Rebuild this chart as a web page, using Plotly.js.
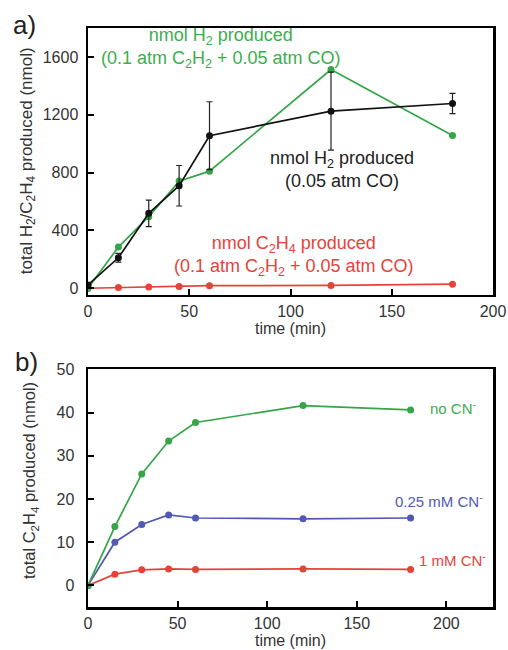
<!DOCTYPE html>
<html>
<head>
<meta charset="utf-8">
<script src="https://cdn.plot.ly/plotly-3.0.1.min.js"></script>
<style>html,body{margin:0;padding:0;background:#fff;}#chart{width:508px;height:650px;}</style>
</head>
<body>
<div id="chart"></div>
<script>
// Panel a data
const timeA = [0, 15, 30, 45, 60, 120, 180];
const h2CO = [23, 211, 518, 709, 1055, 1225, 1278];
const h2COerr = [10, 30, 92, 140, 235, 270, 70];
const h2C2H2CO = [0, 285, 495, 741, 810, 1513, 1057];
const c2h4C2H2CO = [0, 5, 8, 12, 18, 20, 28];

// Panel b data
const timeB = [0, 15, 30, 45, 60, 120, 180];
const noCN = [0, 13.6, 25.8, 33.4, 37.7, 41.6, 40.6];
const cn025 = [0, 10.0, 14.1, 16.3, 15.6, 15.4, 15.6];
const cn1 = [0, 2.6, 3.6, 3.8, 3.7, 3.8, 3.7];

const GREEN = '#35a548';
const GREENTXT = '#3cae4e';
const RED = '#e5433a';
const BLUE = '#5159b3';
const BLACK = '#111';
const FONT = 'Liberation Sans, Arial, sans-serif';

function tr(x, y, color, xa, ya, extra) {
  return Object.assign({
    x: x, y: y, xaxis: xa, yaxis: ya, type: 'scatter', mode: 'lines+markers',
    line: {color: color, width: 1.7}, marker: {color: color, size: 7},
    showlegend: false, hoverinfo: 'skip'
  }, extra || {});
}

const data = [
  tr(timeA, c2h4C2H2CO, RED, 'x', 'y'),
  tr(timeA, h2C2H2CO, GREEN, 'x', 'y'),
  tr(timeA, h2CO, BLACK, 'x', 'y', {error_y: {type: 'data', array: h2COerr, visible: true, color: '#222', thickness: 1.2, width: 3}}),
  tr(timeB, cn1, RED, 'x2', 'y2'),
  tr(timeB, cn025, BLUE, 'x2', 'y2'),
  tr(timeB, noCN, GREEN, 'x2', 'y2')
];

const axisCommon = {
  showline: true, mirror: true, linecolor: '#000', linewidth: 2.5,
  ticks: 'inside', ticklen: 6, tickwidth: 2, tickcolor: '#000',
  showgrid: false, zeroline: false,
  tickfont: {family: FONT, size: 16, color: '#333'}
};

const layout = {
  width: 508, height: 650,
  margin: {l: 88, r: 15, t: 28, b: 43},
  paper_bgcolor: '#fff', plot_bgcolor: '#fff',
  font: {family: FONT, color: '#333'},
  xaxis: Object.assign({}, axisCommon, {
    domain: [0, 1], range: [0, 200], tickvals: [0, 50, 100, 150, 200], anchor: 'y',
    title: {text: 'time (min)', font: {family: FONT, size: 16, color: '#333'}, standoff: 2}
  }),
  yaxis: Object.assign({}, axisCommon, {
    domain: [0.539, 1], range: [-46, 1800], tickvals: [0, 400, 800, 1200, 1600], anchor: 'x',
    ticklabelstandoff: 4
  }),
  xaxis2: Object.assign({}, axisCommon, {
    domain: [0, 1], range: [0, 226], tickvals: [0, 50, 100, 150, 200], anchor: 'y2',
    title: {text: 'time (min)', font: {family: FONT, size: 16, color: '#333'}, standoff: 1}
  }),
  yaxis2: Object.assign({}, axisCommon, {
    domain: [0, 0.4105], range: [-5, 50], tickvals: [0, 10, 20, 30, 40, 50], anchor: 'x2',
    ticklabelstandoff: 8
  }),
  annotations: [
    {xref: 'paper', yref: 'paper', x: -0.148, y: 0.770, xanchor: 'center', yanchor: 'middle', textangle: -90,
     text: 'total H<sub>2</sub>/C<sub>2</sub>H<sub>4</sub> produced (nmol)', showarrow: false,
     font: {family: FONT, size: 17, color: '#333'}},
    {xref: 'paper', yref: 'paper', x: -0.143, y: 0.2176, xanchor: 'center', yanchor: 'middle', textangle: -90,
     text: 'total C<sub>2</sub>H<sub>4</sub> produced (nmol)', showarrow: false,
     font: {family: FONT, size: 16.5, color: '#333'}},
    {xref: 'paper', yref: 'paper', x: -0.19, y: 1.034, xanchor: 'left', yanchor: 'top',
     text: 'a)', showarrow: false, font: {family: FONT, size: 26, color: '#222'}},
    {xref: 'paper', yref: 'paper', x: -0.185, y: 0.4525, xanchor: 'left', yanchor: 'top',
     text: 'b)', showarrow: false, font: {family: FONT, size: 26, color: '#222'}},
    {xref: 'x', yref: 'y', x: 65.8, y: 1664, text: 'nmol H<sub>2</sub> produced<br>(0.1 atm C<sub>2</sub>H<sub>2</sub> + 0.05 atm CO)',
     showarrow: false, font: {family: FONT, size: 18, color: GREENTXT}},
    {xref: 'x', yref: 'y', x: 125.3, y: 824, text: 'nmol H<sub>2</sub> produced<br>(0.05 atm CO)',
     showarrow: false, font: {family: FONT, size: 18, color: '#222'}},
    {xref: 'x', yref: 'y', x: 101.6, y: 223, text: 'nmol C<sub>2</sub>H<sub>4</sub> produced<br>(0.1 atm C<sub>2</sub>H<sub>2</sub> + 0.05 atm CO)',
     showarrow: false, font: {family: FONT, size: 18, color: RED}},
    {xref: 'x2', yref: 'y2', x: 189.6, y: 41.1, xanchor: 'left', text: 'no CN<sup>-</sup>',
     showarrow: false, font: {family: FONT, size: 15, color: GREENTXT}},
    {xref: 'x2', yref: 'y2', x: 170, y: 19.7, xanchor: 'left', text: '0.25 mM CN<sup>-</sup>',
     showarrow: false, font: {family: FONT, size: 15, color: BLUE}},
    {xref: 'x2', yref: 'y2', x: 183.4, y: 5.9, xanchor: 'left', text: '1 mM CN<sup>-</sup>',
     showarrow: false, font: {family: FONT, size: 15, color: RED}}
  ]
};

Plotly.newPlot('chart', data, layout, {displayModeBar: false, staticPlot: true});
</script>
</body>
</html>
